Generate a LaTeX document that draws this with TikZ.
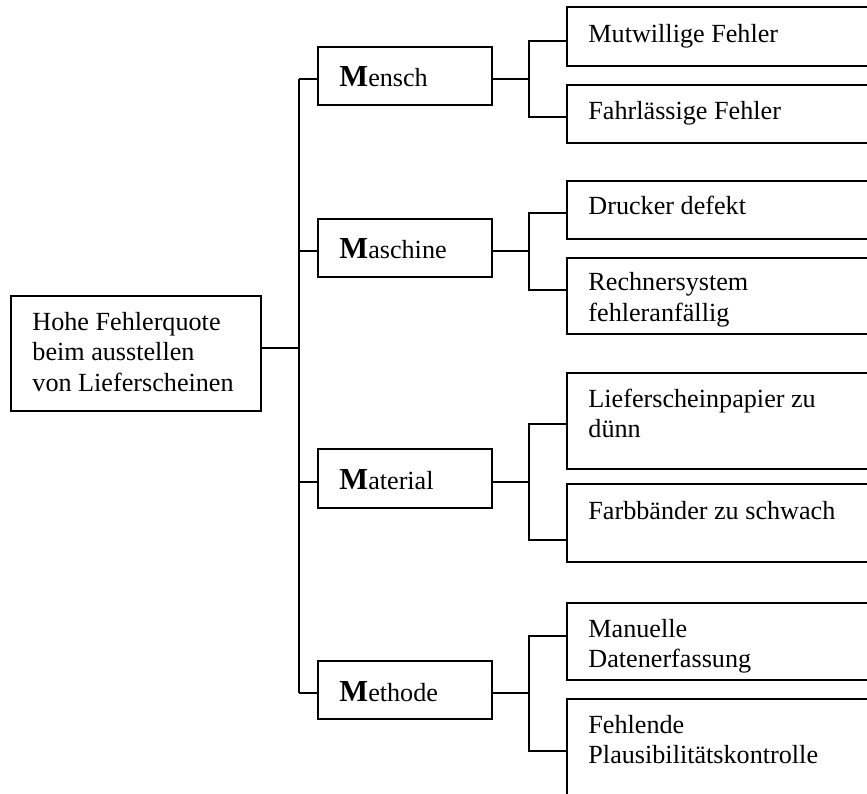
\documentclass[tikz,border=0pt]{standalone}
\usepackage{fontspec}
\setmainfont{Liberation Serif}
\usetikzlibrary{fit}
\newcommand\txtlines[1]{\begin{tabular}[t]{@{}l@{}}#1\end{tabular}}
\newcommand\initM[1]{{\fontsize{14}{14}\selectfont\bfseries #1}}
\begin{document}
\begin{tikzpicture}[x=0.4587pt, y=-0.4587pt,
  box/.style={draw, line width=0.9pt, inner sep=0pt, rectangle},
  wire/.style={line width=0.9pt},
  txt/.style={anchor=base west, inner sep=0pt, font=\fontsize{12}{14}\selectfont}]
\useasboundingbox (0,0) rectangle (867,794);
\clip (0,0) rectangle (867,794);

% problem box
\node[box, fit={(11,296) (261,411)}] (root) {};
\node[txt] (rootlbl) at (32,330) {\txtlines{Hohe Fehlerquote\\beim ausstellen\\von Lieferscheinen}};

% main causes (4M)
\node[box, fit={(318,47) (492,105)}] (mensch) {};
\node[box, fit={(318,219) (492,277)}] (maschine) {};
\node[box, fit={(318,449) (492,508)}] (material) {};
\node[box, fit={(318,661) (492,719)}] (methode) {};
\node[txt] (menschlbl) at (339,87) {\initM{M}ensch};
\node[txt] (maschinelbl) at (339,259) {\initM{M}aschine};
\node[txt] (materiallbl) at (339,489) {\initM{M}aterial};
\node[txt] (methodelbl) at (339,701) {\initM{M}ethode};

% detailed causes
\node[box, fit={(567,7) (890,66)}] (m1) {};
\node[box, fit={(567,85) (890,143)}] (m2) {};
\node[box, fit={(567,181) (890,239)}] (a1) {};
\node[box, fit={(567,258) (890,334)}] (a2) {};
\node[box, fit={(567,373) (890,469)}] (t1) {};
\node[box, fit={(567,484) (890,562)}] (t2) {};
\node[box, fit={(567,603) (890,680)}] (e1) {};
\node[box, fit={(567,699) (890,830)}] (e2) {};
\node[txt] (m1lbl) at (588,43) {Mutwillige Fehler};
\node[txt] (m2lbl) at (588,120) {Fahrlässige Fehler};
\node[txt] (a1lbl) at (588,215) {Drucker defekt};
\node[txt] (a2lbl) at (588,291) {\txtlines{Rechnersystem\\fehleranfällig}};
\node[txt] (t1lbl) at (588,407) {\txtlines{Lieferscheinpapier zu\\dünn}};
\node[txt] (t2lbl) at (588,519) {Farbbänder zu schwach};
\node[txt] (e1lbl) at (588,637) {\txtlines{Manuelle\\Datenerfassung}};
\node[txt] (e2lbl) at (588,733) {\txtlines{Fehlende\\Plausibilitätskontrolle}};

% trunk junctions
\coordinate (jroot) at (299,348);
\coordinate (jmensch) at (299,79);
\coordinate (jmaschine) at (299,251);
\coordinate (jmaterial) at (299,482);
\coordinate (jmethode) at (299,693);
\draw[wire] (jmensch) -- (jmethode);
\draw[wire] (jroot -| root.east) -- (jroot);
\foreach \n in {mensch,maschine,material,methode}
  \draw[wire] (j\n) -- (j\n -| \n.west);

% branch junctions
\coordinate (kmensch) at (529,79);
\coordinate (kmaschine) at (529,251);
\coordinate (kmaterial) at (529,482);
\coordinate (kmethode) at (529,693);
\foreach \n in {mensch,maschine,material,methode}
  \draw[wire] (k\n -| \n.east) -- (k\n);

\coordinate (um) at (529,41);  \coordinate (vm) at (529,117);
\coordinate (ua) at (529,213); \coordinate (va) at (529,290);
\coordinate (ut) at (529,424); \coordinate (vt) at (529,540);
\coordinate (ue) at (529,636); \coordinate (ve) at (529,751);
\draw[wire] (um -| m1.west) -- (um) -- (vm) -- (vm -| m2.west);
\draw[wire] (ua -| a1.west) -- (ua) -- (va) -- (va -| a2.west);
\draw[wire] (ut -| t1.west) -- (ut) -- (vt) -- (vt -| t2.west);
\draw[wire] (ue -| e1.west) -- (ue) -- (ve) -- (ve -| e2.west);
\end{tikzpicture}
\end{document}
